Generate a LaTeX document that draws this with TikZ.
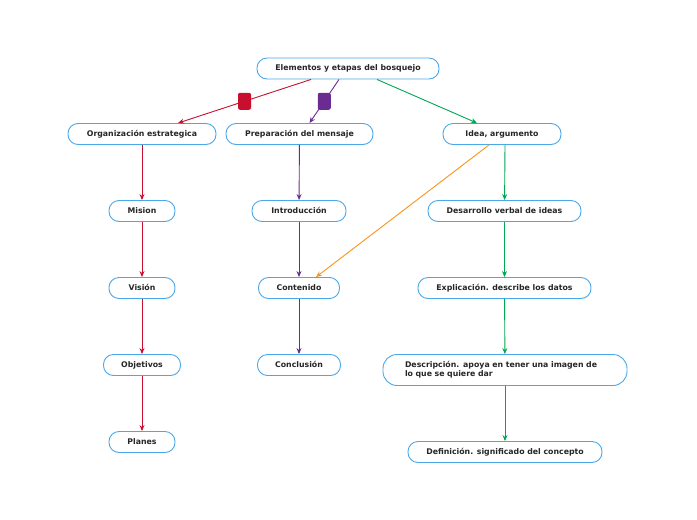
\documentclass[tikz,border=0pt]{standalone}
\usepackage{fontspec}
\setmainfont{DejaVu Sans}
\usepackage{tikz}
\usetikzlibrary{arrows.meta}
\definecolor{borde}{HTML}{4AA8E8}
\definecolor{rojo}{HTML}{C8102E}
\definecolor{morado}{HTML}{6A2C91}
\definecolor{verde}{HTML}{00A651}
\definecolor{naranja}{HTML}{F7941D}
\tikzstyle{caja} = [rectangle, rounded corners=10pt, minimum height=21pt, align=center, draw=borde, line width=0.9pt, fill=white, text=black!85, font=\fontsize{7.8}{9}\selectfont\bfseries]
\tikzstyle{linea} = [text height=6pt, text depth=1.5pt]
\tikzstyle{marca} = [rectangle, rounded corners=2pt, minimum width=13pt, minimum height=17pt, inner sep=0pt]
\tikzstyle{arrow} = [line width=0.9pt,-{Stealth[length=6pt,width=5pt]}]

\begin{document}
\begin{tikzpicture}[x=1pt,y=1pt]
        \useasboundingbox (0,0) rectangle (697,-520);
        \node (raiz) [caja, linea, minimum width=182pt] at (348,-68.5) {Elementos y etapas del bosquejo};
        \node (org) [caja, linea, minimum width=148pt] at (142,-134) {Organización estrategica};
        \node (prep) [caja, linea, minimum width=147pt] at (299.5,-134) {Preparación del mensaje};
        \node (idea) [caja, linea, minimum width=118pt] at (502,-134) {Idea, argumento};

        \node (mision) [caja, linea, minimum width=66pt] at (142,-211) {Mision};
        \node (vision) [caja, linea, minimum width=66pt] at (142,-288) {Visión};
        \node (obj) [caja, linea, minimum width=77pt] at (142,-365) {Objetivos};
        \node (planes) [caja, linea, minimum width=66pt] at (142,-442) {Planes};

        \node (intro) [caja, linea, minimum width=94pt] at (299,-211) {Introducción};
        \node (cont) [caja, linea, minimum width=81pt] at (299,-288) {Contenido};
        \node (concl) [caja, linea, minimum width=83pt] at (299,-365) {Conclusión};

        \node (desa) [caja, linea, minimum width=153pt] at (504.5,-211) {Desarrollo verbal de ideas};
        \node (expl) [caja, linea, minimum width=173pt] at (504.5,-288) {Explicación. describe los datos};
        \node (desc) [caja, minimum width=244pt, minimum height=31pt, rounded corners=14pt, text width=200pt, align=left] at (505,-370) {Descripción. apoya en tener una imagen de\\lo que se quiere dar};
        \node (defi) [caja, linea, minimum width=194pt] at (505,-452) {Definición. significado del concepto};

        % ramas desde la raiz
        \draw [arrow, draw=rojo] ([xshift=-37pt]raiz.south) -- node[marca, fill=rojo, pos=0.5] {} ([xshift=36pt]org.north);
        \draw [arrow, draw=morado] ([xshift=-9pt]raiz.south) -- node[marca, fill=morado, pos=0.5] {} ([xshift=10pt]prep.north);
        \draw [arrow, draw=verde] ([xshift=29pt]raiz.south) -- ([xshift=-25pt]idea.north);

        \draw [arrow, draw=rojo] (org) -- (mision);
        \draw [arrow, draw=rojo] (mision) -- (vision);
        \draw [arrow, draw=rojo] (vision) -- (obj);
        \draw [arrow, draw=rojo] (obj) -- (planes);

        \draw [arrow, draw=morado] (prep) -- (intro);
        \draw [arrow, draw=morado] (intro) -- (cont);
        \draw [arrow, draw=morado] (cont) -- (concl);

        \draw [arrow, draw=verde] ([xshift=3pt]idea.south) -- (desa);
        \draw [arrow, draw=verde] (desa) -- (expl);
        \draw [arrow, draw=verde] (expl) -- (desc);
        \draw [arrow, draw=verde] (desc) -- (defi);

        \draw [arrow, draw=naranja] ([xshift=-13pt]idea.south) -- ([xshift=17pt]cont.north);
    \end{tikzpicture}
\end{document}
